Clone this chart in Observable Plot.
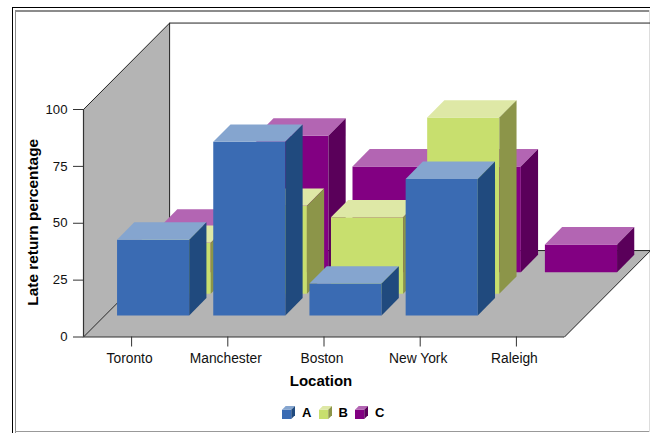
<!DOCTYPE html>
<html>
<head>
<meta charset="utf-8">
<script src="https://cdn.jsdelivr.net/npm/d3@7"></script>
<script src="https://cdn.jsdelivr.net/npm/@observablehq/plot@0.6"></script>
<style>
html,body{margin:0;padding:0;background:#fff;width:650px;height:433px;overflow:hidden;font-family:"Liberation Sans",Arial,sans-serif}
#frame{position:absolute;left:0;top:0;width:650px;height:433px;pointer-events:none}
.f{position:absolute}
#chart{position:relative}
#chart svg{display:block;background:transparent;overflow:visible}
#legend{position:relative;display:flex;height:29px;padding-top:5px;padding-left:282px;align-items:flex-start;font:bold 13px "Liberation Sans",Arial,sans-serif;color:#000}
#legend span.i{display:flex;align-items:center;width:36.5px}
#legend svg{display:block;width:13px;height:13px;margin-right:7px}
</style>
</head>
<body>
<div id="frame">
  <div class="f" style="left:12px;top:7px;width:638px;height:1px;background:#000"></div>
  <div class="f" style="left:12px;top:7px;width:1px;height:426px;background:#000"></div>
  <div class="f" style="left:15px;top:10px;width:635px;height:2px;background:#8c8c8c"></div>
  <div class="f" style="left:15px;top:10px;width:1px;height:423px;background:#8c8c8c"></div>
  <div class="f" style="left:15px;top:431px;width:635px;height:1px;background:#999"></div>
  <div class="f" style="left:649px;top:10px;width:1px;height:422px;background:#ddd"></div>
</div>
<div id="chart"></div>
<div id="legend"></div>
<script>
const locations = ["Toronto", "Manchester", "Boston", "New York", "Raleigh"];
const yTicks = [0, 25, 50, 75, 100];
const seriesNames = ["A", "B", "C"];
const seriesA = [33.3, 76.3, 14, 60, null];
const seriesB = [22.4, 38.7, 33.6, 77.5, null];
const seriesC = [20, 60, 46.5, 46.5, 12.2];
const frontColors = ["#3a6bb3", "#c8df6e", "#820082"];
const topColors = ["#85a5cf", "#dee8a6", "#b365b3"];
const sideColors = ["#204a7e", "#8c9549", "#5a005a"];
const floorColor = "#b4b4b4";

// oblique projection: depth 0..1 shifts a point right and up in scale units
const DX = 0.895, DY = 38, SLOTS = 4, BAR_DEPTH = 0.2, PAD = 0.125;
const pt = (cat, depth, value) => ({x: cat + depth * DX, y: value + depth * DY});

const polys = [];
function poly(id, fill, corners) {
  corners.forEach(c => polys.push({id, fill, ...pt(...c)}));
}
// floor and left wall
poly("floor", floorColor, [[0,0,0],[5,0,0],[5,1,0],[0,1,0]]);
poly("wall", floorColor, [[0,0,0],[0,0,100],[0,1,100],[0,1,0]]);
// bars back to front
[seriesC, seriesB, seriesA].forEach((vals, r) => {
  const s = 2 - r;
  vals.forEach((v, c) => {
    if (v == null) return;
    const x0 = c + PAD, x1 = c + 1 - PAD, d0 = (s + 1) / SLOTS, d1 = d0 + BAR_DEPTH;
    const id = `${s}-${c}`;
    poly(id + "f", frontColors[s], [[x0,d0,0],[x1,d0,0],[x1,d0,v],[x0,d0,v]]);
    poly(id + "t", topColors[s], [[x0,d0,v],[x1,d0,v],[x1,d1,v],[x0,d1,v]]);
    poly(id + "s", sideColors[s], [[x1,d0,0],[x1,d1,0],[x1,d1,v],[x1,d0,v]]);
  });
});
const edges = [
  {id:"e1", ...pt(0,0,100)}, {id:"e1", ...pt(0,1,100)}, {id:"e1", ...pt(5,1,100)},
  {id:"e2", ...pt(0,1,100)}, {id:"e2", ...pt(0,1,0)}, {id:"e2", ...pt(5,1,0)},
  {id:"e3", ...pt(0,0,0)}, {id:"e3", ...pt(0,1,0)},
  {id:"e4", ...pt(5,0,0)}, {id:"e4", ...pt(5,1,0)}
];

const plot = Plot.plot({
  width: 650, height: 400,
  marginLeft: 83, marginRight: 86, marginTop: 109, marginBottom: 63.5,
  style: {background: "transparent", fontFamily: '"Liberation Sans",Arial,sans-serif', color: "#111", overflow: "visible"},
  x: {domain: [0, 5], range: [83, 564]},
  y: {domain: [0, 100]},
  marks: [
    Plot.line(polys.filter(d => d.id === "floor" || d.id === "wall"), {x: "x", y: "y", z: "id", fill: "fill", stroke: "none"}),
    Plot.line(edges, {x: "x", y: "y", z: "id", stroke: "#222", strokeWidth: 1}),
    Plot.line(polys.filter(d => d.id !== "floor" && d.id !== "wall"), {x: "x", y: "y", z: "id", fill: "fill", stroke: "none"}),
    Plot.ruleX([0], {y1: 0, y2: 100, stroke: "#333", strokeWidth: 1.2}),
    Plot.ruleY([0], {x1: 0, x2: 5, stroke: "#333", strokeWidth: 1.2}),
    Plot.axisY({ticks: yTicks, tickSize: 10, tickPadding: 6, label: null, fontSize: "13.2px", stroke: "#333"}),
    Plot.axisX({ticks: locations.map((_, i) => i + 0.5), tickSize: 10, label: null, stroke: "#333", text: null}),
    Plot.text(locations.map((_, i) => i + 0.5), {x: d => d, frameAnchor: "bottom", dy: 26, dx: -2, text: d => locations[d - 0.5], fontSize: "13.8px", fill: "#111"}),
    Plot.text(["Late return percentage"], {frameAnchor: "left", textAnchor: "middle", dx: -50, dy: -1, rotate: -90, fontWeight: "bold", fontSize: "15.4px", fill: "#000"}),
    Plot.text(["Location"], {frameAnchor: "bottom", dx: -3, dy: 48.5, fontWeight: "bold", fontSize: "15px", fill: "#000"})
  ]
});
document.getElementById("chart").append(plot);

const legend = document.getElementById("legend");
seriesNames.forEach((n, i) => {
  const el = document.createElement("span");
  el.className = "i";
  el.innerHTML = `<svg viewBox="0 0 14 14"><polygon points="0,4 10,4 10,14 0,14" fill="${frontColors[i]}"/><polygon points="0,4 4,0 14,0 10,4" fill="${topColors[i]}"/><polygon points="10,4 14,0 14,10 10,14" fill="${sideColors[i]}"/></svg><span>${n}</span>`;
  legend.append(el);
});
</script>
</body>
</html>
